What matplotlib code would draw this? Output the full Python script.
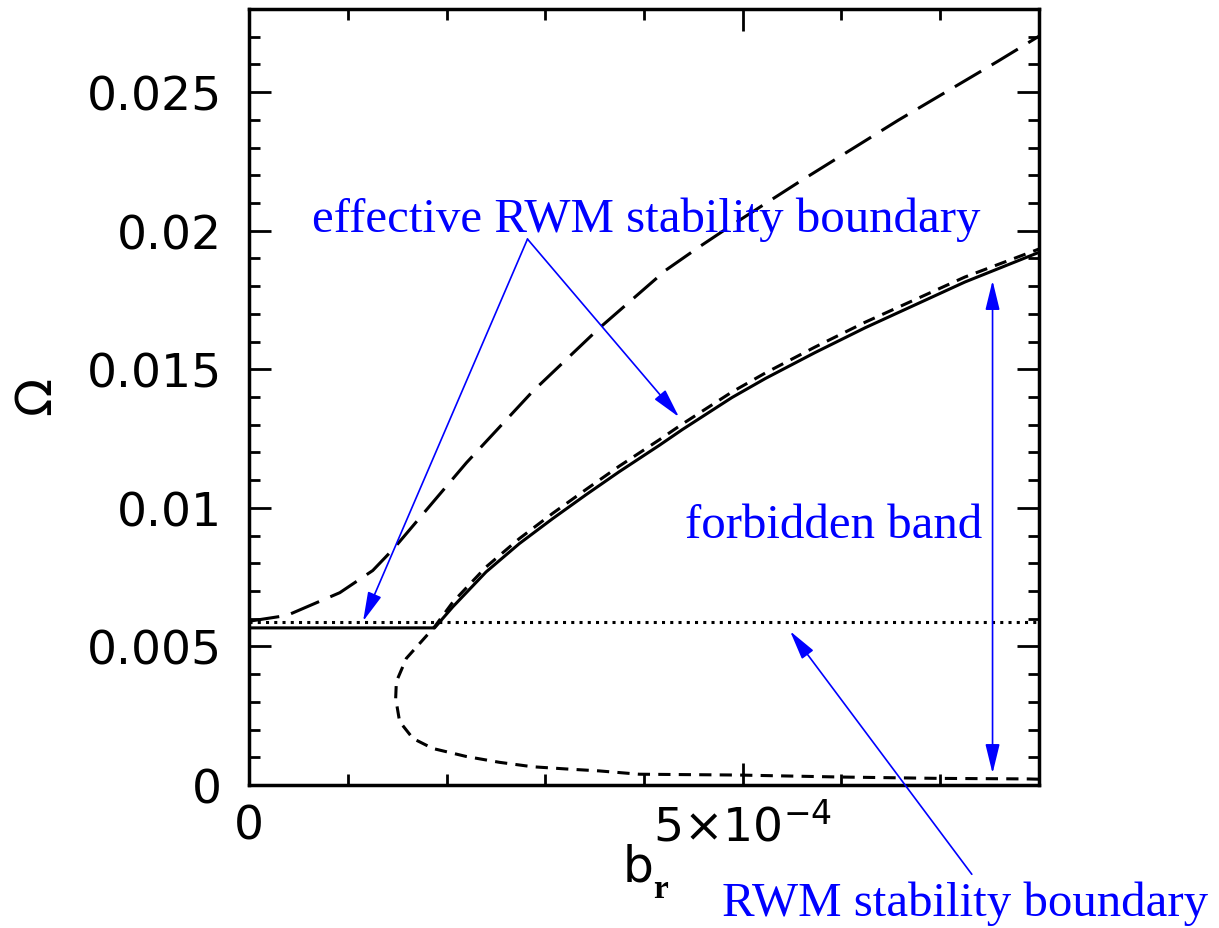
import matplotlib
matplotlib.use("Agg")
import matplotlib.pyplot as plt
from matplotlib.ticker import FixedLocator, MultipleLocator

# --- data (b_r, Omega) ---
long_x = [0.0, 0.384e-4, 0.919e-4, 1.253e-4, 1.465e-4, 1.859e-4, 2.202e-4, 2.869e-4,
          3.545e-4, 4.222e-4, 4.556e-4, 4.889e-4, 5.566e-4, 6.576e-4, 7.586e-4, 8.0e-4]
long_y = [0.00591, 0.00612, 0.00694, 0.00774, 0.00853, 0.01019, 0.01163, 0.01419,
          0.01648, 0.01858, 0.01941, 0.02020, 0.02175, 0.02399, 0.02612, 0.02702]

solid_x = [0.0, 1.879e-4, 2.064e-4, 2.401e-4, 2.737e-4, 3.074e-4, 3.411e-4, 3.747e-4,
           4.152e-4, 4.39e-4, 4.89e-4, 5.23e-4, 5.73e-4, 6.24e-4, 7.25e-4, 8.0e-4]
solid_y = [0.00567, 0.00567, 0.00643, 0.00769, 0.00871, 0.00961, 0.01047, 0.01130,
           0.01225, 0.01283, 0.01398, 0.01467, 0.01560, 0.01650, 0.01815, 0.01922]

# short dashed curve: lower branch from the right edge, round the nose, then upper branch
short_x = [8.0e-4, 7.89e-4, 6.98e-4, 5.97e-4, 4.96e-4, 3.95e-4, 3.545e-4, 3.21e-4, 2.87e-4,
           2.535e-4, 2.20e-4, 1.86e-4, 1.66e-4, 1.525e-4, 1.485e-4, 1.492e-4, 1.593e-4,
           1.879e-4, 2.064e-4, 2.401e-4, 2.737e-4, 3.074e-4, 3.411e-4, 3.747e-4, 4.152e-4,
           4.39e-4, 4.89e-4, 5.23e-4, 5.73e-4, 6.24e-4, 7.25e-4, 8.0e-4]
short_y = [0.00021, 0.00022, 0.00024, 0.00029, 0.00036, 0.00039, 0.00051, 0.00058, 0.00066,
           0.00082, 0.00103, 0.00132, 0.00168, 0.00229, 0.00313, 0.00373, 0.00457,
           0.00571, 0.00660, 0.00787, 0.00889, 0.00980, 0.01066, 0.01150, 0.01245,
           0.01303, 0.01418, 0.01487, 0.01580, 0.01670, 0.01833, 0.01934]

dotted_x = [0.0, 8.0e-4]
dotted_y = [0.0059, 0.0059]

y_ticks = [0, 0.005, 0.01, 0.015, 0.02, 0.025]
y_labels = ["0", "0.005", "0.01", "0.015", "0.02", "0.025"]
x_ticks = [0, 5e-4]
x_labels = ["0", "5×10$^{-4}$"]

fig = plt.figure(figsize=(12.19, 9.29), dpi=100)
ax = fig.add_axes([0.2043, 0.1539, 0.648, 0.8353])

lw = 2.2
ax.plot(long_x, long_y, color="black", lw=lw, dashes=(10.0, 4.0))
ax.plot(solid_x, solid_y, color="black", lw=lw)
ax.plot(short_x, short_y, color="black", lw=lw, dashes=(4.0, 2.7))
ax.plot(dotted_x, dotted_y, color="black", lw=lw, dashes=(1.0, 1.7))

ax.set_xlim(0, 8e-4)
ax.set_ylim(0, 0.028)

ax.xaxis.set_major_locator(FixedLocator(x_ticks))
ax.set_xticklabels(x_labels)
ax.xaxis.set_minor_locator(MultipleLocator(1e-4))
ax.yaxis.set_major_locator(FixedLocator(y_ticks))
ax.set_yticklabels(y_labels)
ax.yaxis.set_minor_locator(MultipleLocator(0.001))

ax.tick_params(which="both", direction="in", top=True, right=True, width=2.0,
               labelsize=34)
ax.tick_params(which="major", length=16)
ax.tick_params(which="minor", length=8)
ax.tick_params(axis="x", which="major", pad=13)
ax.tick_params(axis="y", which="major", pad=19.5)
for sp in ax.spines.values():
    sp.set_linewidth(2.5)

# axis labels: b with a bold serif subscript r, and a rotated Omega
ax.text(0.4734, -0.1225, "b", transform=ax.transAxes, fontsize=35,
        ha="left", va="baseline")
ax.text(0.512, -0.1443, "r", transform=ax.transAxes, fontsize=24,
        family="Liberation Serif", weight="bold", ha="left", va="baseline")
ax.set_ylabel(r"$\Omega$", fontsize=36, labelpad=18)

blue = "#0000ff"
serif = "Liberation Serif"
ax.text(0.64e-4, 0.0200, "effective RWM stability boundary", color=blue,
        family=serif, fontsize=35.2, va="baseline", ha="left")
ax.text(4.42e-4, 0.00895, "forbidden band", color=blue,
        family=serif, fontsize=35.2, va="baseline", ha="left")
ax.text(4.79e-4, -0.00468, "RWM stability boundary", color=blue,
        family=serif, fontsize=35.2, va="baseline", ha="left")

arrow = dict(arrowstyle="-|>,head_length=0.9,head_width=0.22", color=blue, lw=1.2,
             shrinkA=0, shrinkB=0, mutation_scale=20)
ax.annotate("", xy=(1.155e-4, 0.00591), xytext=(2.82e-4, 0.0197), arrowprops=arrow)
ax.annotate("", xy=(4.354e-4, 0.01328), xytext=(2.82e-4, 0.0197), arrowprops=arrow)
ax.annotate("", xy=(5.48e-4, 0.00555), xytext=(7.32e-4, -0.00322), arrowprops=arrow,
            annotation_clip=False)
dbl = dict(arrow, arrowstyle="<|-|>,head_length=0.9,head_width=0.22")
ax.annotate("", xy=(7.53e-4, 0.00042), xytext=(7.53e-4, 0.0182), arrowprops=dbl)

fig.savefig("out.png", dpi=100)
